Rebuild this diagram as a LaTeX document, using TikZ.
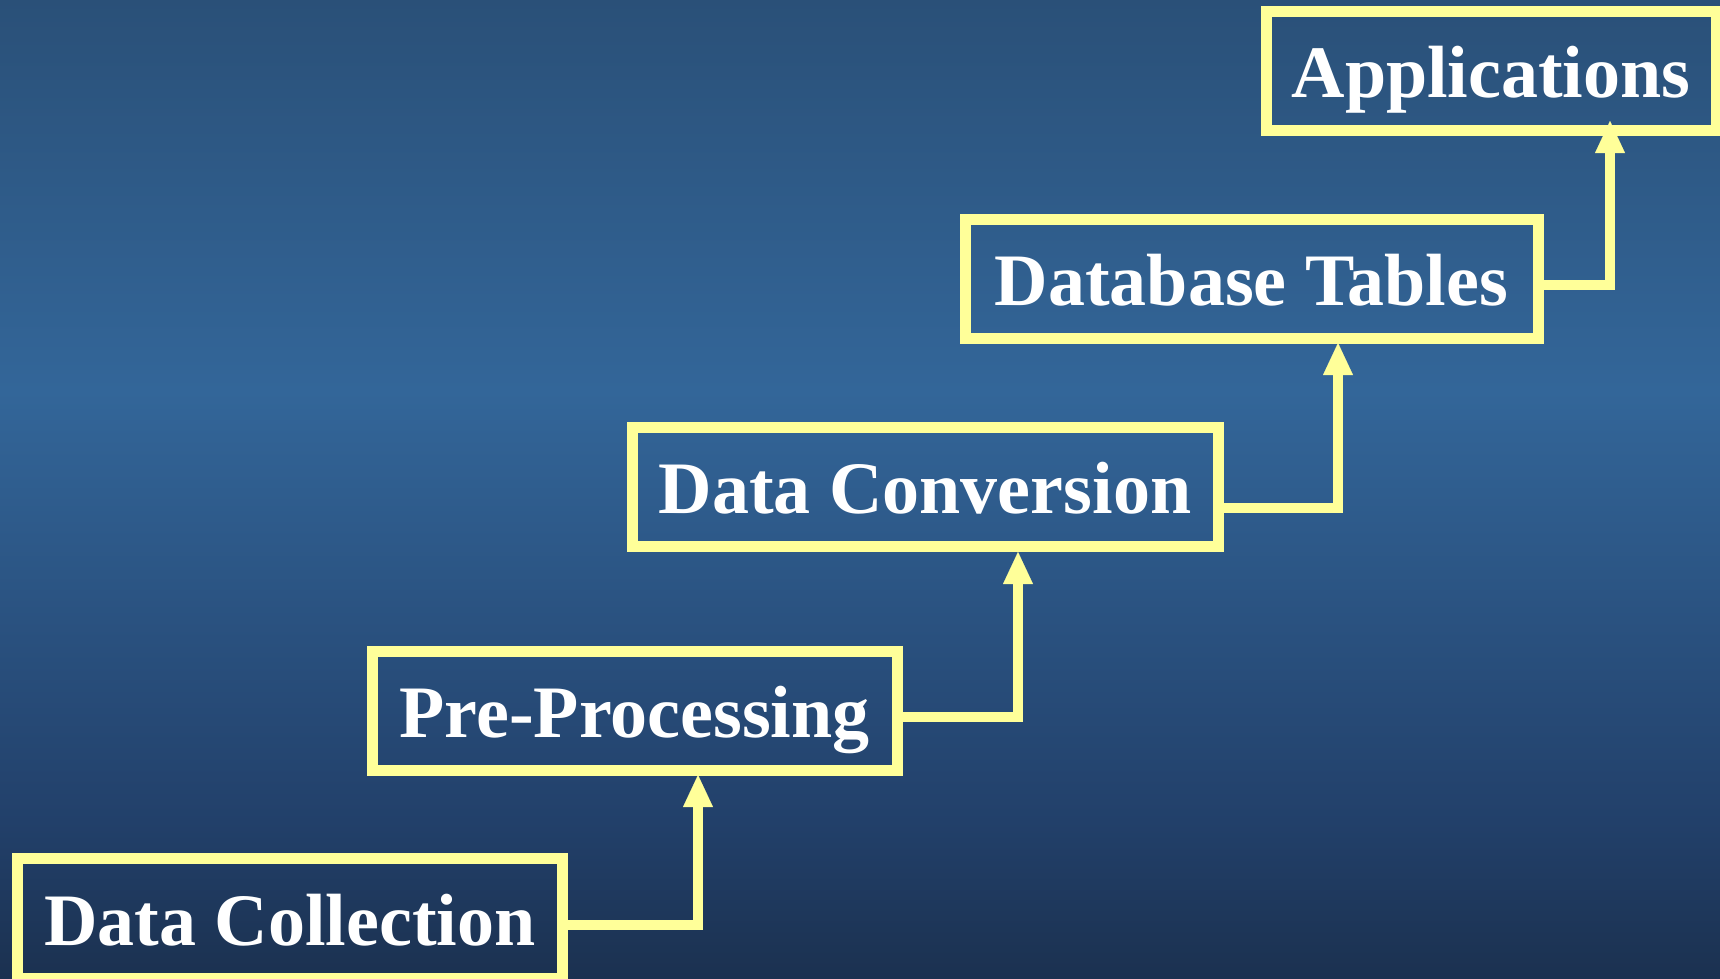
\documentclass[tikz,border=0pt]{standalone}
\usepackage{fontspec}
\setmainfont{Liberation Serif}
\usetikzlibrary{arrows.meta}
\definecolor{bgtop}{HTML}{2A5078}
\definecolor{bgmid}{HTML}{336699}
\definecolor{bglow}{HTML}{22406A}
\definecolor{bgbot}{HTML}{1B3150}
\definecolor{boxyellow}{HTML}{FFFF99}
\pgfdeclareverticalshading{bgshade}{100bp}{color(0bp)=(bgbot); color(25bp)=(bgbot); color(33bp)=(bglow); color(55bp)=(bgmid); color(75bp)=(bgtop); color(100bp)=(bgtop)}
\begin{document}
\begin{tikzpicture}[x=1pt,y=-1pt,
  stagebox/.style={draw=boxyellow, line width=11pt, text=white,
    font=\fontsize{74}{80}\selectfont\bfseries, inner sep=0pt,
    text height=54pt, text depth=0pt, minimum height=119pt},
  conn/.style={draw=boxyellow, line width=10.5pt,
    -{Triangle[length=32pt,width=30pt,line width=0.1pt]}}]
\useasboundingbox (0,0) rectangle (1720,978);
\shade[shading=bgshade] (0,0) rectangle (1720,978);

\node[stagebox, minimum width=544.5pt, minimum height=120pt] (dc) at (290,918.5) {Data Collection};
\node[stagebox, minimum width=525pt] (pp) at (634.5,710.5) {Pre-Processing};
\node[stagebox, minimum width=586pt] (dcv) at (925,486.5) {Data Conversion};
\node[stagebox, minimum width=573pt] (dt) at (1251.5,278.5) {Database Tables};
\node[stagebox, minimum width=450pt] (app) at (1491,70.5) {Applications};

\coordinate (t1) at (698,775);
\coordinate (t2) at (1018,552);
\coordinate (t3) at (1338,343);
\coordinate (t4) at (1610,121);

\draw[conn] ([yshift=-6.5pt]dc.east) -| (t1);
\draw[conn] ([yshift=-6.5pt]pp.east) -| (t2);
\draw[conn] ([yshift=-21.5pt]dcv.east) -| (t3);
\draw[conn] ([yshift=-6.5pt]dt.east) -| (t4);
\end{tikzpicture}
\end{document}
